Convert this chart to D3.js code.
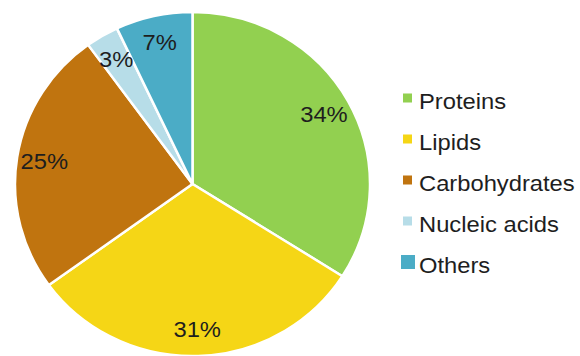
<!DOCTYPE html>
<html>
<head>
<meta charset="utf-8">
<script src="https://cdn.jsdelivr.net/npm/d3@7"></script>
<style>
  body { margin: 0; background: #fff; }
  svg { display: block; }
</style>
</head>
<body>
<div id="chart"></div>
<script>
const categories = ['Proteins', 'Lipids', 'Carbohydrates', 'Nucleic acids', 'Others'];
const shares = [34, 31, 25, 3, 7];
const sliceColors = ['#92d050', '#f5d616', '#c0740f', '#b7dde8', '#4bacc6'];

const width = 580;
const height = 356;
const pieCenter = {x: 192.5, y: 184};
const radiusX = 177.5;
const radiusY = 172;
const labelRadius = 150;
const textStretch = 1.08; // original text is a bit wider than Arial

const fontFamily = '"Liberation Sans", Arial, sans-serif';

const svg = d3.select('#chart')
    .append('svg')
    .attr('width', width)
    .attr('height', height);

const color = d3.scaleOrdinal()
    .domain(categories)
    .range(sliceColors);

const pieData = d3.pie()
    .sort(null)
    .value(d => d.value)
    (categories.map((c, i) => ({name: c, value: shares[i]})));

const arc = d3.arc()
    .innerRadius(0)
    .outerRadius(radiusX);

const labelArc = d3.arc()
    .innerRadius(labelRadius)
    .outerRadius(labelRadius);

// pie is slightly squashed vertically in the original
const pieG = svg.append('g')
    .attr('transform', `translate(${pieCenter.x},${pieCenter.y}) scale(1,${radiusY / radiusX})`);

pieG.selectAll('path')
    .data(pieData)
    .join('path')
    .attr('d', arc)
    .attr('fill', d => color(d.data.name))
    .attr('stroke', '#fff')
    .attr('stroke-width', 2.5)
    .attr('stroke-linejoin', 'round');

svg.append('g')
    .selectAll('text')
    .data(pieData)
    .join('text')
    .attr('transform', d => {
        const c = labelArc.centroid(d);
        return `translate(${pieCenter.x + c[0]},${pieCenter.y + c[1] * radiusY / radiusX}) scale(${textStretch},1)`;
    })
    .attr('dy', '0.36em')
    .attr('text-anchor', 'middle')
    .style('font-family', fontFamily)
    .style('font-size', '22px')
    .attr('fill', '#1e1e1e')
    .text(d => d.data.value + '%');

// legend
const legendX = 403;
const legendTop = 109;
const legendStep = 41;

const legend = svg.append('g');

categories.forEach((c, i) => {
    const baseline = legendTop + i * legendStep;
    const size = c === 'Others' ? 14 : 9;
    legend.append('rect')
        .attr('x', c === 'Others' ? legendX - 2 : legendX)
        .attr('y', baseline - 12 - size / 2 + 1)
        .attr('width', size)
        .attr('height', size)
        .attr('fill', color(c));

    legend.append('text')
        .attr('transform', `translate(${legendX + 16},${baseline}) scale(${textStretch},1)`)
        .style('font-family', fontFamily)
        .style('font-size', '22px')
        .attr('fill', '#1e1e1e')
        .text(c);
});
</script>
</body>
</html>
